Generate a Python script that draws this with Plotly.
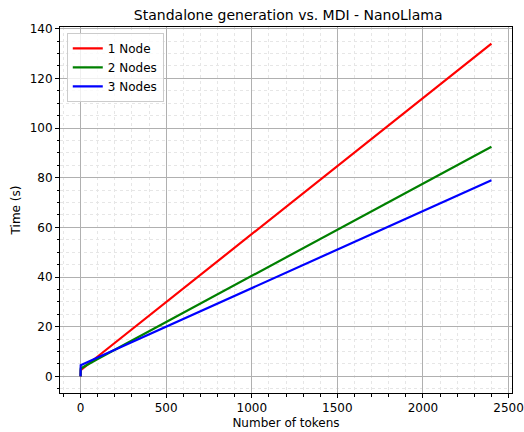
import plotly.graph_objects as go

tokens = [0, 1, 100, 500, 1000, 1500, 2000, 2400]
node1 = [0, 2.5, 8.0, 29.9, 57.3, 84.6, 111.9, 134.0]
node2 = [0, 3.2, 7.0, 21.9, 40.5, 59.0, 77.6, 92.5]
node3 = [0, 4.5, 7.6, 20.0, 35.5, 51.0, 66.5, 79.0]

series = [("1 Node", node1, "#ff0000"), ("2 Nodes", node2, "#008000"), ("3 Nodes", node3, "#0000ff")]

fig = go.Figure()
for name, vals, col in series:
    fig.add_trace(go.Scatter(x=tokens, y=vals, mode="lines", name=name,
                             line=dict(color=col, width=2.2)))

font = "DejaVu Sans"
axis_common = dict(
    showline=True, linecolor="black", linewidth=1, mirror=True,
    ticks="outside", ticklen=4, tickwidth=1, tickcolor="black",
    showgrid=True, gridcolor="#b0b0b0", gridwidth=0.8,
    zeroline=False, automargin=False, ticklabeloverflow="allow",
    tickfont=dict(family=font, size=12, color="black"),
)
fig.update_xaxes(**axis_common, range=[-120, 2520], tickmode="linear", tick0=0, dtick=500,
                 minor=dict(ticks="outside", ticklen=2.5, tickcolor="black", dtick=100,
                            showgrid=True, gridcolor="#e6e6e6", griddash="dot", gridwidth=0.6),
                 title=dict(text="Number of tokens", font=dict(family=font, size=12, color="black"), standoff=4))
fig.update_yaxes(**axis_common, range=[-6.7, 140.7], tickmode="linear", tick0=0, dtick=20,
                 minor=dict(ticks="outside", ticklen=2.5, tickcolor="black", dtick=5,
                            showgrid=True, gridcolor="#e6e6e6", griddash="dot", gridwidth=0.6),
                 title=dict(text="Time (s)", font=dict(family=font, size=12, color="black"), standoff=6))

fig.update_layout(
    width=524, height=432,
    margin=dict(l=60, r=12, t=27, b=39),
    paper_bgcolor="white", plot_bgcolor="white",
    title=dict(text="Standalone generation vs. MDI - NanoLlama", x=0.55, xanchor="center",
               y=0.965, yanchor="middle", font=dict(family=font, size=14, color="black")),
    legend=dict(x=0.015, y=0.984, xanchor="left", yanchor="top",
                bgcolor="rgba(255,255,255,0.8)", bordercolor="#cccccc", borderwidth=1,
                font=dict(family=font, size=12, color="black"), tracegroupgap=0, itemwidth=30),
    showlegend=True,
)

fig.write_html("out.html", config={"displayModeBar": False},
               post_script="document.body.style.margin='0';document.body.style.overflow='hidden';")
